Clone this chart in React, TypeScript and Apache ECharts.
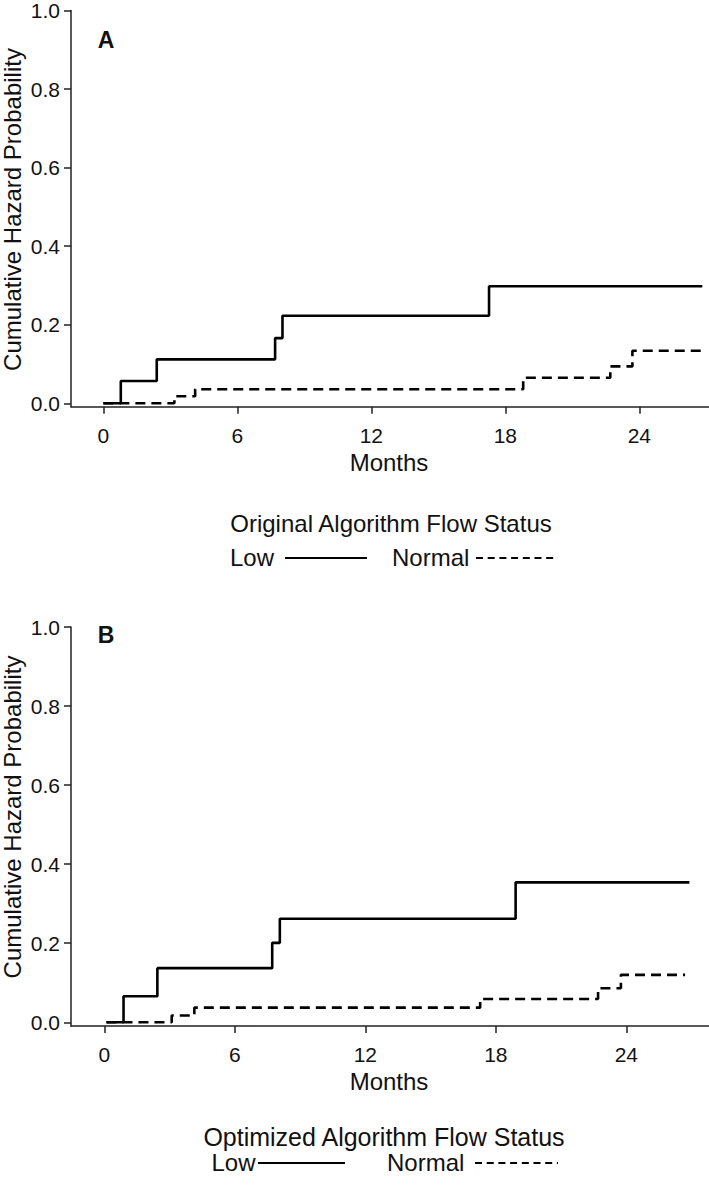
import React, { useEffect, useRef } from "react";
import * as echarts from "echarts";

const monthTicks = [0, 6, 12, 18, 24];
const hazardTicks = [0, 0.2, 0.4, 0.6, 0.8, 1.0];

// Panel A (Original Algorithm)
const lowA_t = [0, 0.78, 2.39, 7.69, 8.02, 17.27, 26.82];
const lowA_v = [0, 0.057, 0.112, 0.166, 0.223, 0.298, 0.298];
const normalA_t = [0, 3.18, 4.11, 18.8, 22.7, 23.69, 26.82];
const normalA_v = [0, 0.018, 0.036, 0.065, 0.094, 0.134, 0.134];

// Panel B (Optimized Algorithm)
const lowB_t = [0.1, 0.885, 2.44, 7.72, 8.07, 18.91, 26.9];
const lowB_v = [0, 0.066, 0.137, 0.201, 0.262, 0.354, 0.354];
const normalB_t = [0.1, 3.1, 4.14, 17.28, 22.7, 23.75, 26.7];
const normalB_v = [0, 0.017, 0.037, 0.059, 0.086, 0.12, 0.12];

const FONT = "'Liberation Sans', Arial, sans-serif";
const TXT = "#111";
const AXC = "#222";

const zip = (t: number[], v: number[]) => t.map((x, i) => [x, v[i]]);

export default function App() {
  const ref = useRef<HTMLDivElement>(null);
  useEffect(() => {
    if (!ref.current) return;
    const chart = echarts.init(ref.current, undefined, { renderer: "svg" });

    const xAxisBase = (gridIndex: number, min: number, max: number) => ({
      type: "value",
      gridIndex,
      min,
      max,
      axisLine: { show: true, onZero: false, lineStyle: { color: AXC, width: 1.5 } },
      axisTick: { show: true, length: 7, customValues: monthTicks, lineStyle: { color: AXC, width: 1.5 } },
      axisLabel: { customValues: monthTicks, margin: 18, fontSize: 21, color: TXT, fontFamily: FONT },
      splitLine: { show: false },
    });
    const yAxisBase = (gridIndex: number, min: number) => ({
      type: "value",
      gridIndex,
      min,
      max: 1.0,
      axisLine: { show: true, onZero: false, lineStyle: { color: AXC, width: 1.5 } },
      axisTick: { show: true, length: 7, customValues: hazardTicks, lineStyle: { color: AXC, width: 1.5 } },
      axisLabel: {
        customValues: hazardTicks,
        margin: 11,
        fontSize: 21,
        color: TXT,
        fontFamily: FONT,
        formatter: (v: number) => v.toFixed(1),
      },
      splitLine: { show: false },
    });

    const lineSeries = (idx: number, data: number[][], dashed: boolean) => ({
      type: "line",
      xAxisIndex: idx,
      yAxisIndex: idx,
      step: "end",
      symbol: "none",
      data,
      lineStyle: { color: "#000", width: 2.6, type: dashed ? [10, 6] : "solid" },
    });

    const txt = (text: string, x: number, y: number, size: number, extra: any = {}) => ({
      type: "text",
      x,
      y,
      style: {
        text,
        fontSize: size,
        fontFamily: FONT,
        fill: TXT,
        align: "center",
        verticalAlign: "middle",
        ...(extra.style || {}),
      },
      ...(extra.el || {}),
    });

    const legendLine = (x1: number, x2: number, y: number, dashed: boolean) => ({
      type: "line",
      shape: { x1, y1: y, x2, y2: y },
      style: { stroke: "#000", lineWidth: 2, lineDash: dashed ? [7, 4.7] : null },
    });

    chart.setOption({
      animation: false,
      grid: [
        { left: 71, top: 6.8, width: 638, height: 399.9 },
        { left: 71, top: 627, width: 638, height: 399 },
      ],
      xAxis: [xAxisBase(0, -1.45, 27.12), xAxisBase(1, -1.53, 27.8)],
      yAxis: [yAxisBase(0, -0.0086), yAxisBase(1, -0.0094)],
      series: [
        lineSeries(0, zip(normalA_t, normalA_v), true),
        lineSeries(0, zip(lowA_t, lowA_v), false),
        lineSeries(1, zip(normalB_t, normalB_v), true),
        lineSeries(1, zip(lowB_t, lowB_v), false),
      ],
      graphic: [
        txt("A", 106, 40, 23, { style: { fontWeight: "bold" } }),
        txt("B", 106, 635, 23, { style: { fontWeight: "bold" } }),
        txt("Cumulative Hazard Probability", 12, 209.5, 24, { el: { rotation: Math.PI / 2 } }),
        txt("Cumulative Hazard Probability", 12, 817, 24, { el: { rotation: Math.PI / 2 } }),
        txt("Months", 389, 462, 24),
        txt("Months", 389, 1081, 24),
        txt("Original Algorithm Flow Status", 391, 523, 24),
        txt("Low", 230, 557, 24, { style: { align: "left" } }),
        legendLine(285, 367, 558, false),
        txt("Normal", 392, 557, 24, { style: { align: "left" } }),
        legendLine(476, 558, 558, true),
        txt("Optimized Algorithm Flow Status", 384, 1137, 25),
        txt("Low", 211.5, 1162, 24, { style: { align: "left" } }),
        legendLine(258, 345, 1163, false),
        txt("Normal", 387, 1162, 24, { style: { align: "left" } }),
        legendLine(475, 558, 1163, true),
      ],
    });
    return () => chart.dispose();
  }, []);
  return (
    <div
      ref={ref}
      style={{ position: "absolute", left: 0, top: 0, width: 709, height: 1186, background: "#fff" }}
    />
  );
}
